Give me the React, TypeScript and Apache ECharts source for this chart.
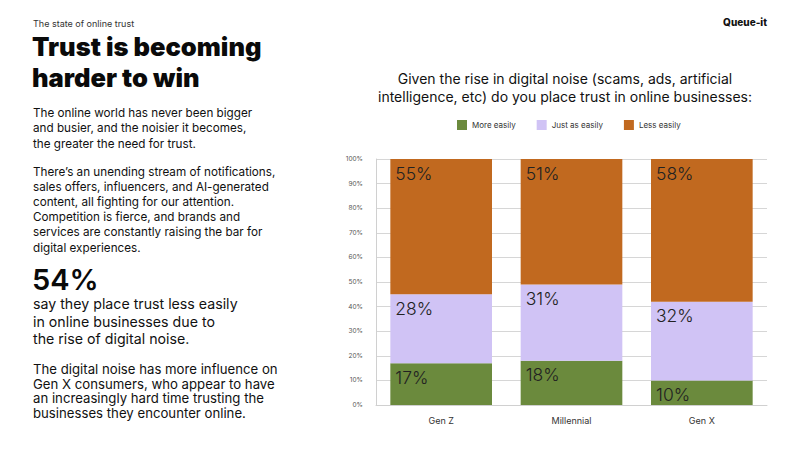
import React, { useEffect, useRef } from "react";
import * as echarts from "echarts";

const categories = ["Gen Z", "Millennial", "Gen X"];
const moreEasily = [17, 18, 10];
const justAsEasily = [28, 31, 32];
const lessEasily = [55, 51, 58];
const seriesNames = ["More easily", "Just as easily", "Less easily"];
const colors = ["#6b8a3d", "#d0c3f5", "#c1691f"];

const FONT = "Inter, 'Noto Sans', sans-serif";

export default function App() {
  const ref = useRef<HTMLDivElement>(null);
  useEffect(() => {
    if (!ref.current) return;
    const chart = echarts.init(ref.current, undefined, { renderer: "svg" });
    const label = {
      show: true,
      position: "insideTopLeft",
      distance: 5,
      formatter: (p: any) => p.value + "%",
      fontSize: 17.5,
      fontWeight: 300,
      color: "#222",
      fontFamily: FONT,
    };
    const data = [moreEasily, justAsEasily, lessEasily];
    chart.setOption({
      animation: false,
      backgroundColor: "#ffffff",
      textStyle: { fontFamily: FONT },
      grid: { left: 376, top: 159, right: 33, bottom: 45, containLabel: false },
      legend: {
        left: 457,
        top: 120,
        itemWidth: 10,
        itemHeight: 10,
        itemGap: 21,
        icon: "rect",
        padding: 0,
        textStyle: { fontSize: 8, color: "#333", fontFamily: FONT, padding: [2, 0, 0, 0] },
        data: seriesNames,
      },
      xAxis: {
        type: "category",
        data: categories,
        axisLine: { show: true, lineStyle: { color: "#d0d0d0" } },
        axisTick: { show: false },
        axisLabel: { fontSize: 9, color: "#333", margin: 11, fontFamily: FONT },
      },
      yAxis: {
        type: "value",
        min: 0,
        max: 100,
        interval: 10,
        axisLine: { show: true, lineStyle: { color: "#d0d0d0" } },
        axisTick: { show: false },
        splitLine: { show: true, lineStyle: { color: "#d6d6d6", width: 1 } },
        axisLabel: {
          fontSize: 6.5,
          color: "#555",
          margin: 13,
          formatter: (v: number) => v + "%",
          fontFamily: FONT,
        },
      },
      series: seriesNames.map((name, i) => ({
        name,
        type: "bar",
        stack: "total",
        barWidth: "78%",
        itemStyle: { color: colors[i] },
        label,
        data: data[i],
      })),
      graphic: [
        {
          type: "text",
          left: 33,
          top: 19,
          style: { text: "The state of online trust", fontSize: 9, fill: "#333", fontFamily: FONT },
        },
        {
          type: "text",
          left: 32,
          top: 33,
          style: { text: "Trust is becoming", fontSize: 25.5, fontWeight: 900, fill: "#0a0a0a", fontFamily: FONT },
        },
        {
          type: "text",
          left: 32,
          top: 64,
          style: { text: "harder to win", fontSize: 25.5, fontWeight: 900, fill: "#0a0a0a", fontFamily: FONT },
        },
        {
          type: "text",
          left: 33,
          top: 105,
          style: {
            text: "The online world has never been bigger\nand busier, and the noisier it becomes,\nthe greater the need for trust.",
            fontSize: 11.7,
            lineHeight: 15.5,
            fill: "#111",
            fontFamily: FONT,
          },
        },
        {
          type: "text",
          left: 33,
          top: 164,
          style: {
            text: "There\u2019s an unending stream of notifications,\nsales offers, influencers, and AI-generated\ncontent, all fighting for our attention.\nCompetition is fierce, and brands and\nservices are constantly raising the bar for\ndigital experiences.",
            fontSize: 11.7,
            lineHeight: 15.2,
            fill: "#111",
            fontFamily: FONT,
          },
        },
        {
          type: "text",
          left: 32,
          top: 265,
          style: { text: "54%", fontSize: 29, fontWeight: 600, fill: "#0a0a0a", fontFamily: FONT },
        },
        {
          type: "text",
          left: 33,
          top: 295,
          style: {
            text: "say they place trust less easily\nin online businesses due to\nthe rise of digital noise.",
            fontSize: 14.2,
            lineHeight: 17.5,
            fill: "#111",
            fontFamily: FONT,
          },
        },
        {
          type: "text",
          left: 33,
          top: 362,
          style: {
            text: "The digital noise has more influence on\nGen X consumers, who appear to have\nan increasingly hard time trusting the\nbusinesses they encounter online.",
            fontSize: 13.2,
            lineHeight: 14.5,
            fill: "#111",
            fontFamily: FONT,
          },
        },
        {
          type: "text",
          right: 33,
          top: 17,
          style: { text: "Queue-it", fontSize: 10, fontWeight: 800, fill: "#111", fontFamily: FONT },
        },
        {
          type: "text",
          x: 565,
          y: 69,
          style: {
            text: "Given the rise in digital noise (scams, ads, artificial\nintelligence, etc) do you place trust in online businesses:",
            fontSize: 14,
            lineHeight: 18.5,
            align: "center",
            verticalAlign: "top",
            fill: "#111",
            fontFamily: FONT,
          },
        },
      ],
    });
    return () => chart.dispose();
  }, []);
  return (
    <div
      ref={ref}
      style={{ position: "absolute", left: 0, top: 0, width: 800, height: 450 }}
    />
  );
}
